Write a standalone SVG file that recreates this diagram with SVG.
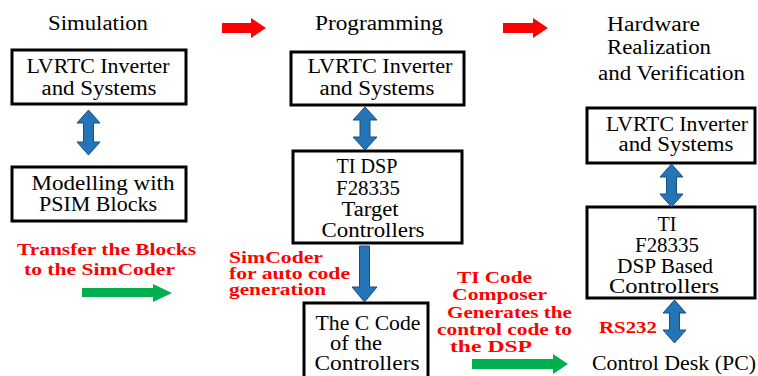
<svg xmlns="http://www.w3.org/2000/svg" width="758" height="376" viewBox="0 0 758 376">
<defs>
<style>
.box{fill:#fff;stroke:#000;stroke-width:3}
.t{font-family:'Liberation Serif','DejaVu Serif',serif;font-size:20px;fill:#000}
.c{text-anchor:middle}
.r{font-family:'Liberation Serif','DejaVu Serif',serif;font-size:16px;font-weight:bold;fill:#ff0000}
.blue{fill:#2474B8;stroke:#1B4F80;stroke-width:1}
.red{fill:#ff0000}
.green{fill:#00B050}
</style>
</defs>
<rect width="758" height="376" fill="#fff"/>
<g id="headers">
<text class="t c" x="98" y="30" font-size="22" textLength="100" lengthAdjust="spacingAndGlyphs">Simulation</text>
<text class="t c" x="379" y="30" font-size="22" textLength="128" lengthAdjust="spacingAndGlyphs">Programming</text>
<text class="t" x="607" y="31" textLength="93" lengthAdjust="spacingAndGlyphs">Hardware</text>
<text class="t" x="607" y="54" textLength="104" lengthAdjust="spacingAndGlyphs">Realization</text>
<text class="t" x="598" y="80" textLength="147" lengthAdjust="spacingAndGlyphs">and Verification</text>
</g>
<g id="sim_lvrtc"><rect class="box" x="12" y="50" width="174" height="54"/>
<text class="t c" x="98" y="73" textLength="143" lengthAdjust="spacingAndGlyphs">LVRTC Inverter</text><text class="t c" x="99" y="95" textLength="115" lengthAdjust="spacingAndGlyphs">and Systems</text></g>
<g id="sim_psim"><rect class="box" x="12" y="167" width="174" height="54"/>
<text class="t c" x="103" y="190" textLength="143" lengthAdjust="spacingAndGlyphs">Modelling with</text><text class="t c" x="98" y="211" textLength="118" lengthAdjust="spacingAndGlyphs">PSIM Blocks</text></g>
<g id="prog_lvrtc"><rect class="box" x="291" y="52" width="173" height="53"/>
<text class="t c" x="380" y="73" textLength="145" lengthAdjust="spacingAndGlyphs">LVRTC Inverter</text><text class="t c" x="377" y="95" textLength="115" lengthAdjust="spacingAndGlyphs">and Systems</text></g>
<g id="prog_dsp"><rect class="box" x="293" y="151" width="169" height="92"/>
<text class="t c" x="367" y="173" textLength="61" lengthAdjust="spacingAndGlyphs">TI DSP</text><text class="t c" x="368" y="195" textLength="64" lengthAdjust="spacingAndGlyphs">F28335</text><text class="t c" x="370" y="216" textLength="57" lengthAdjust="spacingAndGlyphs">Target</text><text class="t c" x="373" y="237" textLength="103" lengthAdjust="spacingAndGlyphs">Controllers</text></g>
<g id="prog_ccode"><rect class="box" x="304" y="303" width="124" height="80"/>
<text class="t c" x="368" y="330" textLength="105" lengthAdjust="spacingAndGlyphs">The C Code</text><text class="t c" x="356" y="350" textLength="52" lengthAdjust="spacingAndGlyphs">of the</text><text class="t c" x="367" y="370" textLength="105" lengthAdjust="spacingAndGlyphs">Controllers</text></g>
<g id="hw_lvrtc"><rect class="box" x="587" y="108" width="168" height="55"/>
<text class="t c" x="677" y="131" font-size="19" textLength="142" lengthAdjust="spacingAndGlyphs">LVRTC Inverter</text><text class="t c" x="676" y="151" font-size="19" textLength="115" lengthAdjust="spacingAndGlyphs">and Systems</text></g>
<g id="hw_dsp"><rect class="box" x="587" y="207" width="168" height="91"/>
<text class="t c" x="667" y="231" textLength="19" lengthAdjust="spacingAndGlyphs">TI</text><text class="t c" x="667" y="252" textLength="64" lengthAdjust="spacingAndGlyphs">F28335</text><text class="t c" x="665" y="273" textLength="96" lengthAdjust="spacingAndGlyphs">DSP Based</text><text class="t c" x="664" y="293" textLength="110" lengthAdjust="spacingAndGlyphs">Controllers</text></g>
<g id="hw_pc"><text class="t" x="592" y="370" textLength="164" lengthAdjust="spacingAndGlyphs">Control Desk (PC)</text></g>
<g id="labels">
<text class="r" x="17" y="255" font-size="18" textLength="179" lengthAdjust="spacingAndGlyphs">Transfer the Blocks</text>
<text class="r" x="24" y="275" font-size="18" textLength="151" lengthAdjust="spacingAndGlyphs">to the SimCoder</text>
<text class="r" x="229" y="263" textLength="94" lengthAdjust="spacingAndGlyphs">SimCoder</text>
<text class="r" x="229" y="279" textLength="121" lengthAdjust="spacingAndGlyphs">for auto code</text>
<text class="r" x="229" y="295" textLength="97" lengthAdjust="spacingAndGlyphs">generation</text>
<text class="r" x="457" y="283" textLength="75" lengthAdjust="spacingAndGlyphs">TI Code</text>
<text class="r" x="452" y="300" textLength="95" lengthAdjust="spacingAndGlyphs">Composer</text>
<text class="r" x="447" y="318" textLength="125" lengthAdjust="spacingAndGlyphs">Generates the</text>
<text class="r" x="437" y="335" textLength="135" lengthAdjust="spacingAndGlyphs">control code to</text>
<text class="r" x="450" y="352" textLength="82" lengthAdjust="spacingAndGlyphs">the DSP</text>
<text class="r" x="599" y="333" font-size="18" textLength="58" lengthAdjust="spacingAndGlyphs">RS232</text>
</g>
<g id="connectors">
<path class="red" d="M222,23 H251 V18 L266,28 L251,38 V33 H222 Z"/>
<path class="red" d="M503,23 H533 V18 L548,28 L533,38 V33 H503 Z"/>
<path class="green" d="M82,288 H153 V284 L172,293 L153,302 V297 H82 Z"/>
<path class="green" d="M472,359 H553 V354 L568,364 L553,374 V369 H472 Z"/>
<path class="blue" d="M88.5,110 L100,123 H93.5 V142 H100 L88.5,155 L77,142 H83.5 V123 H77 Z"/>
<path class="blue" d="M365,107 L377,120 H370 V137 H377 L365,150 L353,137 H360 V120 H353 Z"/>
<path class="blue" d="M359.5,246 H369.5 V287 H377 L364.5,302 L352,287 H359.5 Z"/>
<path class="blue" d="M671.5,164 L683,177 H676.5 V194 H683 L671.5,207 L660,194 H666.5 V177 H660 Z"/>
<path class="blue" d="M674.5,300 L686,313 H679.5 V330 H686 L674.5,343 L663,330 H669.5 V313 H663 Z"/>
</g>
</svg>
